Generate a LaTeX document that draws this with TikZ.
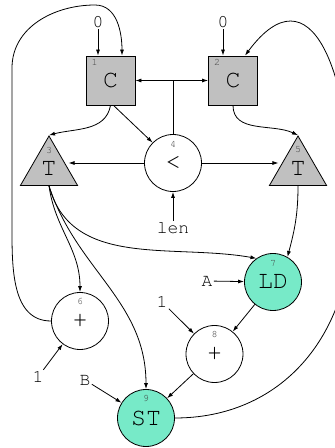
\documentclass[tikz,border=0pt]{standalone}
\usepackage[T1]{fontenc}
\usepackage{courier}
\usetikzlibrary{shapes.geometric,arrows.meta}
\definecolor{boxgray}{RGB}{192,192,192}
\definecolor{memgreen}{RGB}{119,234,200}
\begin{document}
\begin{tikzpicture}[x=1pt,y=1pt,>={Latex[length=6pt,width=4pt]},line width=0.8pt]
	\tikzstyle{op} = [draw,fill=boxgray,minimum size=49pt,inner sep=0pt,font=\ttfamily\fontsize{25}{25}\selectfont]
	\tikzstyle{tri} = [regular polygon,regular polygon sides=3,draw,fill=boxgray,minimum size=66pt,inner sep=0pt,font=\ttfamily\fontsize{25}{25}\selectfont]
	\tikzstyle{unit} = [circle,draw,fill=white,minimum size=57pt,inner sep=0pt,font=\ttfamily\fontsize{25}{25}\selectfont]
	\tikzstyle{mem} = [unit,fill=memgreen]
	\tikzstyle{num} = [inner sep=0pt,text=darkgray,font=\ttfamily\fontsize{10}{10}\selectfont]
	\tikzstyle{inp} = [inner sep=1pt,font=\ttfamily\fontsize{18}{18}\selectfont]
	\useasboundingbox (0,0) rectangle (335,448);
		
		\node[op] (c1) at (110.5,367.5){C};
		\node[op] (c2) at (233,367.5){C};
		\node[tri] (t3) at (49,279){T};
		\node[unit] (lt4) at (173,285){<};
		\node[tri] (t5) at (298,279){T};
		\node[unit] (p6) at (80,127){+};
		\node[mem] (ld7) at (273,166){LD};
		\node[unit] (p8) at (214.5,94){+};
		\node[mem] (st9) at (146,30){ST};
		
		\node[num] (n1) at ([xshift=9pt,yshift=-7pt]c1.north west){1};
		\node[num] (n2) at ([xshift=9pt,yshift=-7pt]c2.north west){2};
		\node[num] (n3) at ([yshift=19pt]t3.center){3};
		\node[num] (n4) at ([yshift=-10pt]lt4.north){4};
		\node[num] (n5) at ([yshift=19pt]t5.center){5};
		\node[num] (n6) at ([yshift=-9pt]p6.north){6};
		\node[num] (n7) at ([yshift=-10pt]ld7.north){7};
		\node[num] (n8) at ([yshift=-9pt]p8.north){8};
		\node[num] (n9) at ([yshift=-9pt]st9.north){9};
		
		\node[inp] (z1) at (98,426){0};
		\node[inp] (z2) at (223,426){0};
		\node[inp] (len) at (173,220){len};
		\node[inp] (a) at (207,167){A};
		\node[inp] (b) at (85,68){B};
		\node[inp] (o8) at (162,146){1};
		\node[inp] (o6) at (38,71){1};
		
		\draw[->] (z1) -- (z1 |- c1.north);
		\draw[->] (z2) -- (z2 |- c2.north);
		\coordinate (j) at (lt4.north |- c1.east);
		\draw (lt4.north) -- (j);
		\draw[->] (j) -- (c1.east);
		\draw[->] (j) -- (c2.west);
		\draw[->] ([xshift=3pt]c1.south) -- (lt4.135);
		\draw[->] (c1.south) to[out=-100,in=15] (t3.north);
		\draw[->] (c2.south) to[out=-90,in=155] (t5.north);
		\draw[->] (lt4.west) -- (lt4.west -| t3.east);
		\draw[->] (lt4.east) -- (lt4.east -| t5.west);
		\draw[->] (len) -- (lt4.south);
		
		\draw[->] (t3.south) to[out=-82,in=90] (p6.north);
		\draw[->] (t3.south) to[out=-72,in=90] (st9.north);
		\draw[->] (t3.south) to[out=-75,in=170] (ld7.125);
		\draw[->] (t5.south) to[out=-90,in=75] (ld7.60);
		
		\draw[->] (a) -- (ld7);
		\draw[->] (ld7) -- (p8);
		\draw[->] (o8) -- (p8);
		\draw[->] (p8) -- (st9);
		\draw[->] (b) -- (st9);
		\draw[->] (o6) -- (p6);
		
		% loops back to the C nodes
		\draw[->] (p6.west) to[out=180,in=-90] (12,220) -- (12,380) to[out=90,in=180] (95,443) to[out=0,in=90] ([xshift=11.5pt]c1.north);
		\draw[->] (st9.east) .. controls (280,30) and (352,110) .. (352,230) .. controls (352,380) and (310,480) .. ([xshift=12pt]c2.north);
		
\end{tikzpicture}
\end{document}
